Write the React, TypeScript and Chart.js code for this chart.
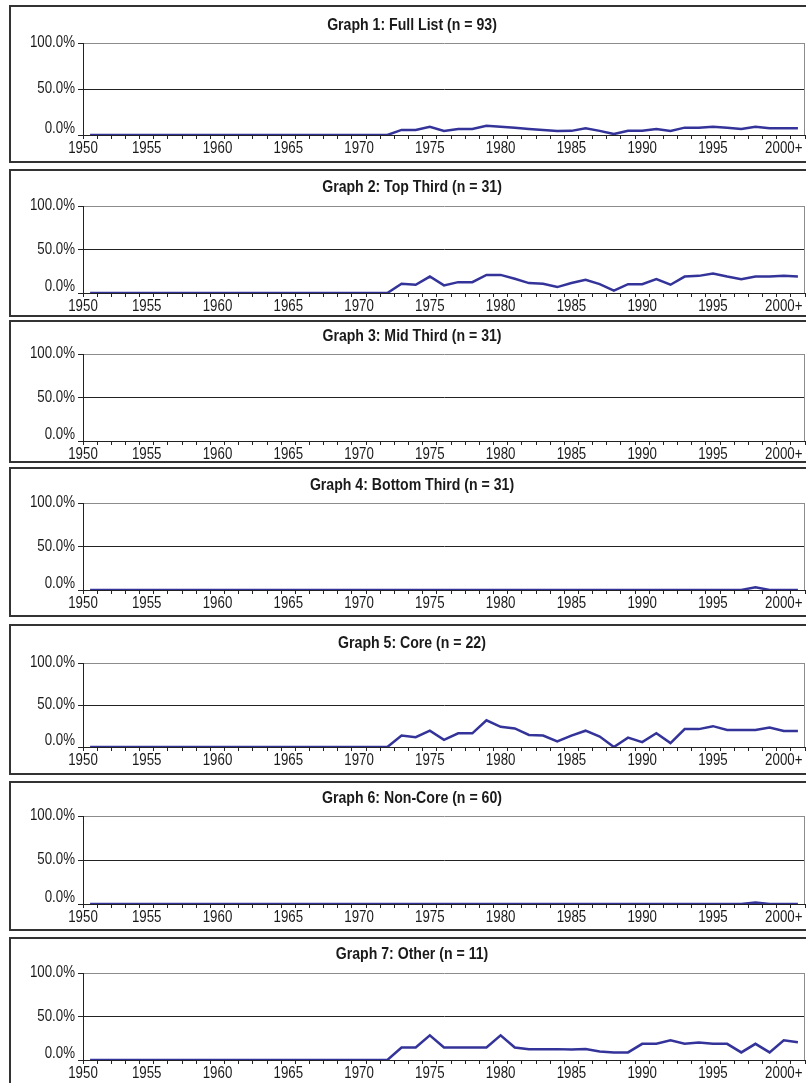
import React, { useEffect, useRef } from 'react';
import { Chart, registerables } from 'chart.js';

Chart.register(...registerables);

// ---------- data ----------
const years = [
  1951, 1952, 1953, 1954, 1955, 1956, 1957, 1958, 1959, 1960,
  1961, 1962, 1963, 1964, 1965, 1966, 1967, 1968, 1969, 1970,
  1971, 1972, 1973, 1974, 1975, 1976, 1977, 1978, 1979, 1980,
  1981, 1982, 1983, 1984, 1985, 1986, 1987, 1988, 1989, 1990,
  1991, 1992, 1993, 1994, 1995, 1996, 1997, 1998, 1999, 2000,
  2001,
];

const xTickValues = [1950.5, 1955, 1960, 1965, 1970, 1975, 1980, 1985, 1990, 1995, 2000];
const xTickLabels = ['1950', '1955', '1960', '1965', '1970', '1975', '1980', '1985', '1990', '1995', '2000+'];
const yTickValues = [0, 50, 100];

const fullList = [
  0, 0, 0, 0, 0, 0, 0, 0, 0, 0, 0, 0, 0, 0, 0, 0, 0, 0, 0, 0, 0, 0,
  5.5, 5.5, 9, 4.4, 6.6, 6.6, 10, 9, 8, 6.6,
  5.5, 4.4, 4.5, 7.3, 4.5, 1, 4.5, 4.5, 6.6, 4.4,
  8, 8, 9, 8, 6.6, 9, 7.3, 7.3, 7.3,
];

const topThird = [
  0, 0, 0, 0, 0, 0, 0, 0, 0, 0, 0, 0, 0, 0, 0, 0, 0, 0, 0, 0, 0, 0,
  10.6, 9.5, 18.9, 8.7, 12.5, 12.5, 20.8, 20.8, 16.3, 11.4,
  10.6, 6.8, 11.4, 15.2, 10.2, 2.7, 10.2, 10.2, 15.9, 9.5,
  18.9, 19.7, 22.3, 18.9, 15.9, 18.9, 18.9, 19.7, 18.9,
];

const midThird: number[] = [];

const bottomThird = [
  0, 0, 0, 0, 0, 0, 0, 0, 0, 0, 0, 0, 0, 0, 0, 0, 0, 0, 0, 0, 0, 0,
  0, 0, 0, 0, 0, 0, 0, 0, 0, 0,
  0, 0, 0, 0, 0, 0, 0, 0, 0, 0,
  0, 0, 0, 0, 0, 3.2, 0, 0, 0,
];

const core = [
  0, 0, 0, 0, 0, 0, 0, 0, 0, 0, 0, 0, 0, 0, 0, 0, 0, 0, 0, 0, 0, 0,
  13.6, 11.6, 19.4, 8.5, 16.3, 16.3, 31.8, 24, 22.1, 14.3,
  13.6, 6.6, 13.6, 19.4, 12.4, 0, 11.2, 5.8, 16.3, 4.7,
  21.3, 21.3, 24.8, 20.2, 20.2, 20.2, 23.3, 19, 19,
];

const nonCore = [
  0, 0, 0, 0, 0, 0, 0, 0, 0, 0, 0, 0, 0, 0, 0, 0, 0, 0, 0, 0, 0, 0,
  0, 0, 0, 0, 0, 0, 0, 0, 0, 0,
  0, 0, 0, 0, 0, 0, 0, 0, 0, 0,
  0, 0, 0, 0, 0, 1.7, 0, 0, 0,
];

const other = [
  0, 0, 0, 0, 0, 0, 0, 0, 0, 0, 0, 0, 0, 0, 0, 0, 0, 0, 0, 0, 0, 0,
  14.4, 14.4, 28.4, 14.4, 14.4, 14.4, 14.4, 28.4, 14.4, 12.5,
  12.5, 12.5, 12.1, 12.5, 9.8, 8.7, 8.7, 18.6, 18.6, 22.7,
  18.6, 20.1, 18.6, 18.6, 8.7, 18.6, 8.7, 22.7, 20.5,
];

const panelTitles = [
  'Graph 1: Full List (n = 93)',
  'Graph 2: Top Third (n = 31)',
  'Graph 3: Mid Third (n = 31)',
  'Graph 4: Bottom Third (n = 31)',
  'Graph 5: Core (n = 22)',
  'Graph 6: Non-Core (n = 60)',
  'Graph 7: Other (n = 11)',
];

const panelSeries = [fullList, topThird, midThird, bottomThird, core, nonCore, other];

// ---------- layout (page pixels) ----------
const panelLayout = [
  { top: 5, height: 158, titleY: 25, plotTop: 43, plotBottom: 135 },
  { top: 169, height: 148, titleY: 187, plotTop: 206, plotBottom: 293 },
  { top: 320, height: 143, titleY: 336, plotTop: 354, plotBottom: 441 },
  { top: 467, height: 150, titleY: 485, plotTop: 503, plotBottom: 590 },
  { top: 624, height: 151, titleY: 643, plotTop: 663, plotBottom: 747 },
  { top: 781, height: 150, titleY: 798, plotTop: 816, plotBottom: 904 },
  { top: 937, height: 150, titleY: 954, plotTop: 973, plotBottom: 1060 },
];

const BORDER = 2;
const PANEL_LEFT = 9;
const PANEL_WIDTH = 800;
const FONT_FAMILY = '"Liberation Sans", Arial, Helvetica, sans-serif';
const TEXT_SCALE_X = 0.83; // condensed look (reference uses a narrow face)
const TICK_SIZE = 16;
const TITLE_SIZE = 17;
const LINE_COLOR = '#333399';
const AXIS_COLOR = '#222222';
const FRAME_COLOR = '#8c8c8c';
const TEXT_COLOR = '#1a1a1a';

const framePlugin = {
  id: 'frameRight',
  beforeDraw(chart: any) {
    const ctx = chart.ctx;
    if (ctx.__condensed) return;
    const orig = ctx.fillText.bind(ctx);
    ctx.fillText = function (text: string, x: number, y: number, maxWidth?: number) {
      ctx.save();
      ctx.translate(x, y);
      ctx.scale(TEXT_SCALE_X, 1);
      if (maxWidth !== undefined && maxWidth !== null) orig(text, 0, 0, maxWidth / TEXT_SCALE_X);
      else orig(text, 0, 0);
      ctx.restore();
    };
    ctx.__condensed = true;
  },
  afterDatasetsDraw(chart: any) {
    const { ctx, chartArea } = chart;
    ctx.save();
    ctx.strokeStyle = FRAME_COLOR;
    ctx.lineWidth = 1;
    ctx.beginPath();
    ctx.moveTo(chartArea.right - 0.5, chartArea.top);
    ctx.lineTo(chartArea.right - 0.5, chartArea.bottom);
    ctx.stroke();
    ctx.restore();
  },
};

function Panel({ index }: { index: number }) {
  const ref = useRef<HTMLCanvasElement | null>(null);
  const geo = panelLayout[index];
  const canvasW = PANEL_WIDTH - 2 * BORDER;
  const canvasH = geo.height - 2 * BORDER;

  useEffect(() => {
    if (!ref.current) return;
    const innerTop = geo.top + BORDER;
    const chartTop = geo.plotTop - innerTop;
    const chartBottom = geo.plotBottom - innerTop;
    const titleCenter = geo.titleY - innerTop;
    const titleLH = TITLE_SIZE * 1.2;
    const padTop = titleCenter - titleLH / 2;
    const padBottom = chartTop - padTop - titleLH;
    const xAxisH = canvasH - chartBottom;
    const plotH = geo.plotBottom - geo.plotTop;
    const zeroLabelShift = (6 / plotH) * 100;
    const yLabelValues = [zeroLabelShift, 50, 100];

    const values = panelSeries[index];
    const points = values.map((v, i) => ({ x: years[i], y: v }));

    const tickFont = { family: FONT_FAMILY, size: TICK_SIZE, lineHeight: 1.2 };

    const chart = new Chart(ref.current, {
      type: 'line',
      data: {
        datasets: [
          {
            data: points,
            borderColor: LINE_COLOR,
            backgroundColor: LINE_COLOR,
            borderWidth: 2.5,
            pointRadius: 0,
            tension: 0,
            fill: false,
            xAxisID: 'x',
            yAxisID: 'y',
          },
        ],
      },
      options: {
        animation: false,
        responsive: false,
        maintainAspectRatio: false,
        events: [],
        layout: { padding: { left: 8, right: 2, top: 0, bottom: 0 } },
        plugins: {
          legend: { display: false },
          tooltip: { enabled: false },
          title: {
            display: true,
            text: panelTitles[index],
            color: TEXT_COLOR,
            font: { family: FONT_FAMILY, size: TITLE_SIZE, weight: 'bold', lineHeight: 1.2 },
            padding: { top: padTop, bottom: padBottom },
          },
        },
        scales: {
          y: {
            type: 'linear',
            position: 'left',
            weight: 0,
            min: 0,
            max: 100,
            afterBuildTicks: (s: any) => {
              s.ticks = yTickValues.map((v) => ({ value: v }));
            },
            ticks: { display: false },
            grid: {
              color: (c: any) => (c.tick && c.tick.value === 100 ? FRAME_COLOR : AXIS_COLOR),
              lineWidth: 1,
              tickLength: 5,
              tickColor: AXIS_COLOR,
              drawTicks: true,
            },
            border: { display: true, color: AXIS_COLOR, width: 1 },
            afterFit: (s: any) => {
              s.width = 5;
            },
          },
          yLabels: {
            type: 'linear',
            position: 'left',
            weight: 1,
            min: 0,
            max: 100,
            afterBuildTicks: (s: any) => {
              s.ticks = yLabelValues.map((v) => ({ value: v }));
            },
            ticks: {
              callback: (_v: any, i: number) => yTickValues[i].toFixed(1) + '%',
              font: tickFont,
              color: TEXT_COLOR,
              padding: 3,
              autoSkip: false,
            },
            grid: { display: false, drawTicks: false },
            border: { display: false },
            afterFit: (s: any) => {
              s.width = 59;
            },
          },
          xt: {
            type: 'linear',
            position: 'bottom',
            weight: 0,
            min: 1950.5,
            max: 2001.5,
            afterBuildTicks: (s: any) => {
              s.ticks = years.map((y) => ({ value: y - 0.5 })).concat([{ value: 2001.5 }]);
            },
            ticks: { display: false },
            grid: {
              drawOnChartArea: false,
              drawTicks: true,
              tickLength: 4,
              color: AXIS_COLOR,
              tickColor: AXIS_COLOR,
            },
            border: { display: true, color: AXIS_COLOR, width: 1 },
            afterFit: (s: any) => {
              s.height = 4;
            },
          },
          x: {
            type: 'linear',
            position: 'bottom',
            weight: 1,
            min: 1950.5,
            max: 2001.5,
            afterBuildTicks: (s: any) => {
              s.ticks = xTickValues.map((v) => ({ value: v }));
            },
            ticks: {
              callback: (_v: any, i: number) => xTickLabels[i],
              font: tickFont,
              color: TEXT_COLOR,
              padding: 0,
              maxRotation: 0,
              minRotation: 0,
              autoSkip: false,
            },
            grid: { display: false, drawTicks: false },
            border: { display: false },
            afterFit: (s: any) => {
              s.height = xAxisH - 4;
            },
          },
        },
      } as any,
      plugins: [framePlugin],
    });

    return () => {
      chart.destroy();
    };
  }, [index]);

  return (
    <div
      style={{
        position: 'absolute',
        left: PANEL_LEFT,
        top: geo.top,
        width: PANEL_WIDTH,
        height: geo.height,
        boxSizing: 'border-box',
        border: `${BORDER}px solid #333333`,
        background: '#ffffff',
      }}
    >
      <canvas
        ref={ref}
        width={canvasW}
        height={canvasH}
        style={{ display: 'block', width: canvasW, height: canvasH }}
      />
    </div>
  );
}

export default function App() {
  return (
    <div
      style={{
        position: 'absolute',
        left: 0,
        top: 0,
        width: 806,
        height: 1083,
        overflow: 'hidden',
        background: '#ffffff',
      }}
    >
      {panelTitles.map((_t, i) => (
        <Panel key={i} index={i} />
      ))}
    </div>
  );
}
